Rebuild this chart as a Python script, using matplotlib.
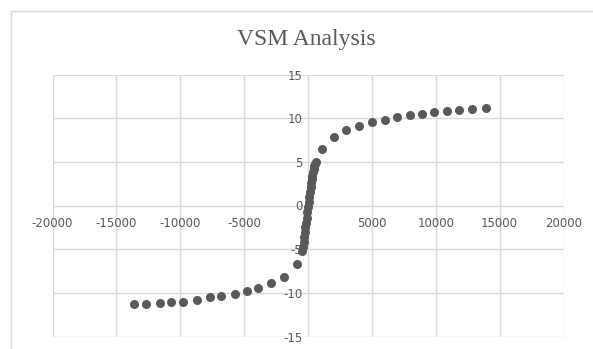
import matplotlib
matplotlib.use("Agg")
import matplotlib.pyplot as plt
from matplotlib.patches import Rectangle

# Magnetic field (Oe) and magnetisation (emu/g)
field = [-13600, -12700, -11600, -10700, -9800, -8700, -7700, -6800, -5700,
         -4800, -3900, -2900, -1900, -900,
         -450, -400, -350, -300, -250, -200, -150, -100, -50, 0,
         50, 100, 150, 200, 250, 300, 350, 400, 450, 500, 550, 600,
         1100, 2000, 3000, 4000, 5000, 6000, 7000, 8000, 8900,
         9900, 10900, 11800, 12800, 13900]
moment = [-11.3, -11.3, -11.2, -11.0, -11.0, -10.8, -10.5, -10.4, -10.1,
          -9.8, -9.5, -8.9, -8.2, -6.7,
          -5.2, -4.7, -4.2, -3.6, -3.0, -2.5, -2.0, -1.4, -0.8, -0.2,
          0.4, 1.0, 1.6, 2.1, 2.6, 3.0, 3.4, 3.8, 4.2, 4.5, 4.8, 5.0,
          6.5, 7.9, 8.6, 9.1, 9.6, 9.8, 10.1, 10.4, 10.5,
          10.7, 10.8, 10.9, 11.0, 11.2]

x_ticks = [-20000, -15000, -10000, -5000, 0, 5000, 10000, 15000, 20000]
x_labels = ["-20000", "-15000", "-10000", "-5000", "", "5000", "10000", "15000", "20000"]
y_ticks = [-15, -10, -5, 0, 5, 10, 15]
y_labels = ["-15", "-10", "-5", "0", "5", "10", "15"]
title = "VSM Analysis"

W, H = 593, 349
fig = plt.figure(figsize=(W / 100, H / 100), dpi=100)
fig.patch.set_facecolor("white")

# chart frame
fig.patches.append(Rectangle((10.5 / W, -0.1), 1.2, (H - 11.5) / H + 0.1,
                             transform=fig.transFigure, fill=False,
                             edgecolor="#d9d9d9", linewidth=1.0))

left, right = 52.5 / W, 563.5 / W
bottom, top = (H - 336.5) / H, (H - 74.5) / H
ax = fig.add_axes([left, bottom, right - left, top - bottom])
ax.set_xlim(-20000, 20000)
ax.set_ylim(-15, 15)

grid_c = "#d9d9d9"
text_c = "#595959"
for v in x_ticks:
    ax.axvline(v, color=grid_c, lw=1.0, zorder=0)
for v in y_ticks:
    ax.axhline(v, color=grid_c, lw=1.0, zorder=0)

for s in ["top", "right", "left", "bottom"]:
    ax.spines[s].set_visible(False)

ax.set_xticks(x_ticks)
ax.set_xticklabels(x_labels)
ax.set_yticks(y_ticks)
ax.set_yticklabels(y_labels)
ax.tick_params(length=0, labelsize=8.5, labelcolor=text_c)
for lab in ax.get_xticklabels() + ax.get_yticklabels():
    lab.set_fontfamily("Lato")

# labels sit beside the zero axes
ax.spines["bottom"].set_position(("data", 0))
ax.spines["left"].set_position(("data", 0))
ax.tick_params(axis="x", pad=8)
ax.tick_params(axis="y", pad=4)

ax.plot(field, moment, linestyle="none", marker="o", markersize=6.5,
        color="#595959", markeredgewidth=0, zorder=3, clip_on=False)

fig.text(306 / W, 1 - 40 / H, title, ha="center", va="center",
         fontsize=17, color=text_c, family="Liberation Serif")

fig.savefig("out.png", dpi=100, facecolor="white")
